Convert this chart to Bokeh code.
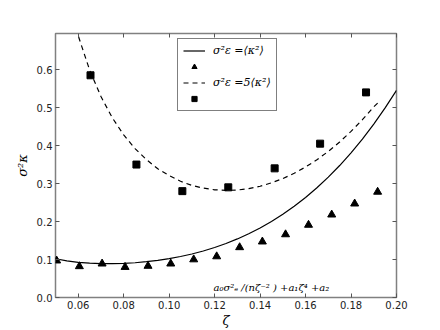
from bokeh.plotting import figure
from bokeh.models import (Legend, LegendItem, LinearAxis, FixedTicker, NumeralTickFormatter,
                          Label, Range1d)
from bokeh.embed import file_html
from bokeh.resources import INLINE

# ---- data ----
zeta_tri = [0.0505, 0.0605, 0.0705, 0.0806, 0.0907, 0.1007, 0.1108, 0.1209,
            0.1310, 0.1410, 0.1512, 0.1613, 0.1715, 0.1816, 0.1917]
sig_tri = [0.097, 0.082, 0.089, 0.080, 0.083, 0.089, 0.100, 0.108,
           0.132, 0.147, 0.166, 0.191, 0.218, 0.247, 0.278]

zeta_sq = [0.0654, 0.0856, 0.1058, 0.1260, 0.1464, 0.1664, 0.1866]
sig_sq = [0.585, 0.350, 0.280, 0.290, 0.340, 0.405, 0.540]

zeta_fit1 = [0.050, 0.055, 0.060, 0.065, 0.070, 0.075, 0.080, 0.085, 0.090, 0.095,
             0.100, 0.105, 0.110, 0.115, 0.120, 0.125, 0.130, 0.135, 0.140, 0.145,
             0.150, 0.155, 0.160, 0.165, 0.170, 0.175, 0.180, 0.185, 0.190, 0.195, 0.200]
sig_fit1 = [0.102, 0.0964, 0.0927, 0.0904, 0.0891, 0.0890, 0.0898, 0.0915, 0.0942, 0.0977,
            0.1023, 0.1079, 0.1146, 0.1225, 0.1316, 0.1421, 0.1542, 0.1677, 0.1829, 0.2000,
            0.2190, 0.2401, 0.2632, 0.2888, 0.3168, 0.3474, 0.3808, 0.4171, 0.4566, 0.4992, 0.5453]

zeta_fit5 = [0.059, 0.0595, 0.060, 0.065, 0.070, 0.075, 0.080, 0.085, 0.090, 0.095,
             0.100, 0.105, 0.110, 0.115, 0.120, 0.125, 0.130, 0.135, 0.140, 0.145,
             0.150, 0.155, 0.160, 0.165, 0.170, 0.175, 0.180, 0.185, 0.190, 0.1925]
sig_fit5 = [0.709, 0.699, 0.689, 0.599, 0.529, 0.473, 0.428, 0.392, 0.363, 0.339,
            0.321, 0.306, 0.295, 0.288, 0.2835, 0.2819, 0.2830, 0.2867, 0.2929, 0.3018,
            0.3131, 0.3269, 0.3435, 0.3626, 0.3846, 0.4094, 0.4372, 0.4680, 0.5021, 0.516]

x_ticks = [0.06, 0.08, 0.10, 0.12, 0.14, 0.16, 0.18, 0.20]
y_ticks = [0.0, 0.1, 0.2, 0.3, 0.4, 0.5, 0.6]

label_fit = "σ²ε =⟨κ²⟩"
label_fit5 = "σ²ε =5⟨κ²⟩"
fit_note = "a₀σ²ₑ /(nζ⁻² ) +a₁ζ⁴ +a₂"

# ---- figure ----
p = figure(frame_width=341, frame_height=264, output_backend="svg", toolbar_location=None,
           x_range=Range1d(0.05, 0.20), y_range=Range1d(0.0, 0.695),
           min_border_left=55, min_border_right=40, min_border_top=33, min_border_bottom=30)
p.background_fill_color = "white"
p.border_fill_color = "white"
p.outline_line_color = "#808080"
p.outline_line_width = 1.5
p.grid.visible = False

r1 = p.line(zeta_fit1, sig_fit1, line_color="black", line_width=1.2)
r2 = p.scatter(zeta_tri, sig_tri, marker="triangle", size=8, fill_color="black", line_color="black")
r3 = p.line(zeta_fit5, sig_fit5, line_color="black", line_width=1.2, line_dash="5 4")
r4 = p.scatter(zeta_sq, sig_sq, marker="square", size=7, fill_color="black", line_color="black")

for ax in (p.xaxis[0], p.yaxis[0]):
    ax.major_tick_in = 4
    ax.major_tick_out = 0
    ax.minor_tick_in = 0
    ax.minor_tick_out = 0
    ax.axis_line_color = None
    ax.major_tick_line_color = "#555555"
    ax.major_label_text_font = "DejaVu Sans"
    ax.major_label_text_font_size = "10px"
    ax.major_label_text_color = "#222222"
    ax.axis_label_text_font = "DejaVu Serif"
    ax.axis_label_text_font_style = "italic"
    ax.axis_label_text_font_size = "13px"
    ax.axis_label_text_color = "black"

p.xaxis[0].ticker = FixedTicker(ticks=x_ticks)
p.xaxis[0].formatter = NumeralTickFormatter(format="0.00")
p.xaxis[0].axis_label = "ζ"
p.xaxis[0].axis_label_standoff = 1
p.xaxis[0].major_label_standoff = 3
p.yaxis[0].ticker = FixedTicker(ticks=y_ticks)
p.yaxis[0].formatter = NumeralTickFormatter(format="0.0")
p.yaxis[0].axis_label = "σ²κ"
p.yaxis[0].axis_label_standoff = 4
p.yaxis[0].major_label_standoff = 3

top = LinearAxis(ticker=FixedTicker(ticks=x_ticks),
                 major_label_overrides={t: "" for t in x_ticks},
                 major_tick_in=4, major_tick_out=0, minor_tick_in=0, minor_tick_out=0,
                 axis_line_color=None, major_tick_line_color="#555555", major_label_standoff=0)
right = LinearAxis(ticker=FixedTicker(ticks=y_ticks),
                   major_label_overrides={t: "" for t in y_ticks},
                   major_tick_in=4, major_tick_out=0, minor_tick_in=0, minor_tick_out=0,
                   axis_line_color=None, major_tick_line_color="#555555", major_label_standoff=0)
p.add_layout(top, "above")
p.add_layout(right, "right")

legend = Legend(items=[
    LegendItem(label=label_fit, renderers=[r1]),
    LegendItem(label=" ", renderers=[r2]),
    LegendItem(label=label_fit5, renderers=[r3]),
    LegendItem(label=" ", renderers=[r4]),
], location=(122, 186))
legend.border_line_color = "black"
legend.border_line_width = 1
legend.background_fill_alpha = 1
legend.label_text_font = "DejaVu Serif"
legend.label_text_font_style = "italic"
legend.label_text_font_size = "11px"
legend.label_text_color = "black"
legend.glyph_width = 22
legend.glyph_height = 13
legend.label_height = 13
legend.spacing = 3
legend.padding = 5
legend.margin = 0
legend.label_standoff = 8
p.add_layout(legend, "center")

note = Label(x=0.1195, y=0.012, text=fit_note, text_font="DejaVu Serif",
             text_font_style="italic", text_font_size="10px", text_color="black")
p.add_layout(note)

open("out.html", "w").write(file_html(p, INLINE))
